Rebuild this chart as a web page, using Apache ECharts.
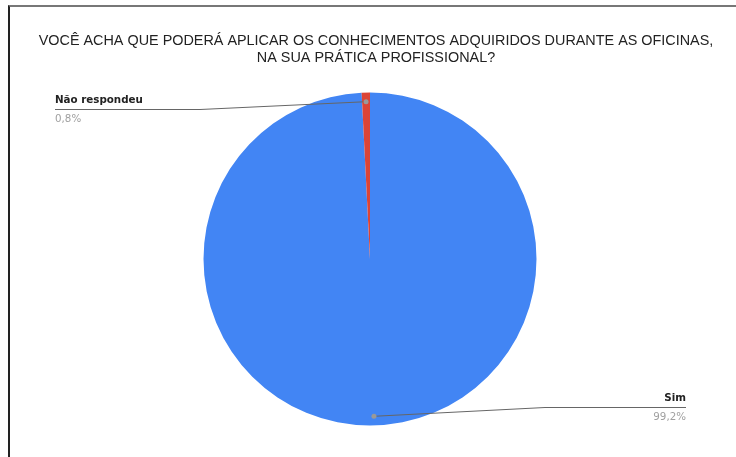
<!DOCTYPE html>
<html><head><meta charset="utf-8">
<script src="https://cdn.jsdelivr.net/npm/echarts@6/dist/echarts.min.js"></script>
<style>
html,body{margin:0;padding:0;background:#fff;}
#c{position:absolute;left:0;top:0;width:736px;height:457px;}
#frame{position:absolute;left:8px;top:5px;width:728px;height:452px;border-top:2px solid #777;border-left:2px solid #222;pointer-events:none;}
</style></head>
<body>
<div id="c"></div><div id="frame"></div>
<script>
const titleLines = ['VOCÊ ACHA QUE PODERÁ APLICAR OS CONHECIMENTOS ADQUIRIDOS DURANTE AS OFICINAS,', 'NA SUA PRÁTICA PROFISSIONAL?'];
const categories = ['Sim', 'Não respondeu'];
const values = [99.2, 0.8];
const valueLabels = ['99,2%', '0,8%'];
const colors = ['#4285f4', '#db4437'];

const CX = 370, CY = 259, R = 166.5;
const total = values.reduce((a, b) => a + b, 0);
function midPoint(i, f) {
  let before = 0;
  for (let k = 0; k < i; k++) before += values[k];
  const frac = (before + values[i] / 2) / total;
  const a = frac * 2 * Math.PI;
  return [CX + Math.sin(a) * R * f, CY - Math.cos(a) * R * f];
}
const dots = categories.map((c, i) => midPoint(i, 0.945));
// label anchor layout: [text x, underline y, bend x, align]
const labelPos = [[686, 407.5, 545, 'right'], [55, 109.5, 200, 'left']];

const guides = [];
dots.forEach((p, i) => {
  const L = labelPos[i];
  guides.push({type: 'polyline', z: 100, shape: {points: [p, [L[2], L[1]], [L[0], L[1]]]}, style: {stroke: '#666', lineWidth: 1, fill: null}});
  guides.push({type: 'circle', z: 101, shape: {cx: p[0], cy: p[1], r: 2.5}, style: {fill: '#999'}});
});

const chart = echarts.init(document.getElementById('c'), null, {renderer: 'canvas'});
chart.setOption({
  animation: false,
  title: {
    text: titleLines.join('\n'),
    left: 371, top: 28, textAlign: 'center',
    textStyle: {fontFamily: 'Liberation Sans, Arial', fontSize: 14.4, fontWeight: 'normal', color: '#222', lineHeight: 17}
  },
  graphic: guides,
  series: [{
    type: 'pie',
    center: [CX, CY],
    radius: [0, R],
    startAngle: 90,
    clockwise: true,
    data: categories.map((c, i) => ({name: c, value: values[i], itemStyle: {color: colors[i]}})),
    label: {
      show: true,
      formatter: p => '{n|' + p.name + '}\n{v|' + valueLabels[p.dataIndex] + '}',
      rich: {
        n: {fontFamily: 'DejaVu Sans', fontSize: 10.3, fontWeight: 'bold', color: '#222', lineHeight: 19},
        v: {fontFamily: 'DejaVu Sans', fontSize: 10.3, color: '#a0a0a0', lineHeight: 19}
      }
    },
    labelLine: {show: false},
    labelLayout: function (params) {
      const L = labelPos[params.dataIndex];
      return {x: L[0], y: L[1] - 19, align: L[3], verticalAlign: 'top'};
    }
  }]
});
</script>
</body></html>
